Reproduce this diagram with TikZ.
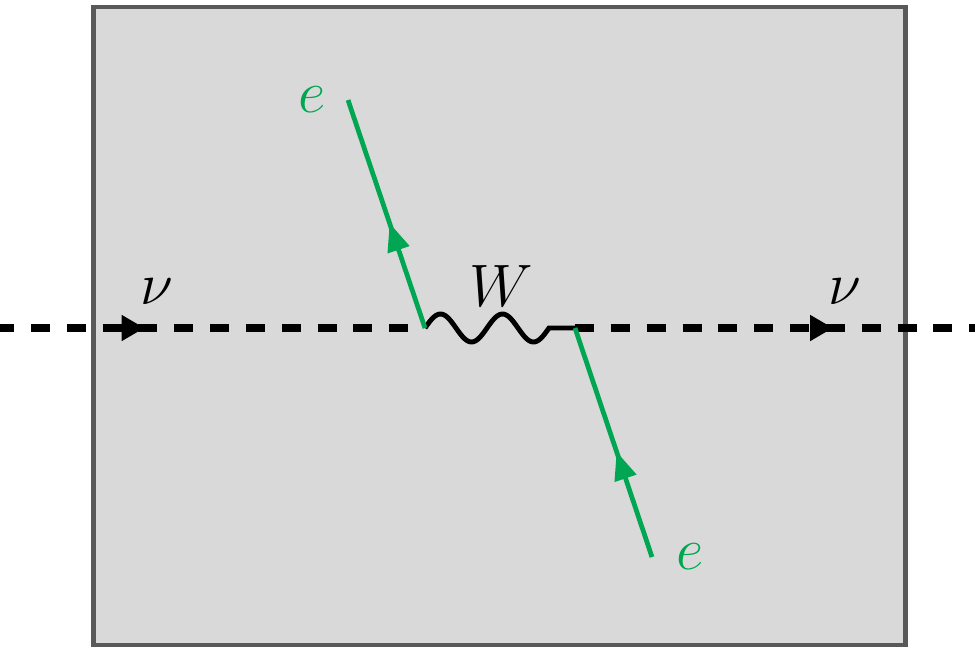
\documentclass[tikz,border=0pt]{standalone}
\usepackage{amsmath}
\usepackage{tikz}
\usetikzlibrary{arrows.meta,decorations.markings,positioning}
\definecolor{leptongreen}{RGB}{0,166,81}
\definecolor{boxgray}{RGB}{217,217,217}
\definecolor{framegray}{RGB}{89,89,89}

\begin{document}
\begin{tikzpicture}[x=0.02cm, y=-0.02cm,
    neutrino/.style={line width=4pt, dash pattern=on 10.8pt off 9.6pt},
    electron/.style={line width=2.7pt, leptongreen},
    boson/.style={line width=2.8pt},
    nuarrow/.style={postaction={decorate}, decoration={markings,
        mark=at position #1 with {\arrow{Triangle[length=13pt,width=14pt]}}}},
    earrow/.style={postaction={decorate}, decoration={markings,
        mark=at position #1 with {\arrow{Triangle[length=16pt,width=12.5pt]}}}},
    lab/.style={inner sep=0pt, font=\Huge, scale=1.37}]
    \useasboundingbox (0,0) rectangle (975,647);

    % Box
    \draw[framegray, line width=2.8pt, fill=boxgray] (93.5,7) rectangle (905.5,645);

    % Vertices and external ends
    \coordinate (v1) at (425,328);
    \coordinate (v2) at (575,328);
    \coordinate (nuin) at (0,328);
    \coordinate (nuout) at (975,328);
    \coordinate (ein) at (652,557);
    \coordinate (eout) at (348,100);

    % Neutrino lines
    \draw[neutrino, dash phase=2.8pt, nuarrow=0.34] (nuin) -- (v1);
    \draw[neutrino, nuarrow=0.645] (v2) -- (nuout);

    % W propagator
    \draw[boson] (v1) -- plot[domain=0:124, samples=80, smooth]
        ({425+\x}, {328-14*sin(5.8065*\x)}) -- (v2);

    % Electron lines
    \draw[electron, earrow=0.46] (v1) -- (eout);
    \draw[electron, earrow=0.46] (ein) -- (v2);

    % Labels
    \node[lab] (nuinlab) at (157,292) {$\nu$};
    \node[lab] (nuoutlab) at (845,292) {$\nu$};
    \node[lab] (wlab) at (501,286) {$W$};
    \node[lab, leptongreen] (eoutlab) at (312,100) {$e$};
    \node[lab, leptongreen] (einlab) at (690,557) {$e$};
\end{tikzpicture}
\end{document}
